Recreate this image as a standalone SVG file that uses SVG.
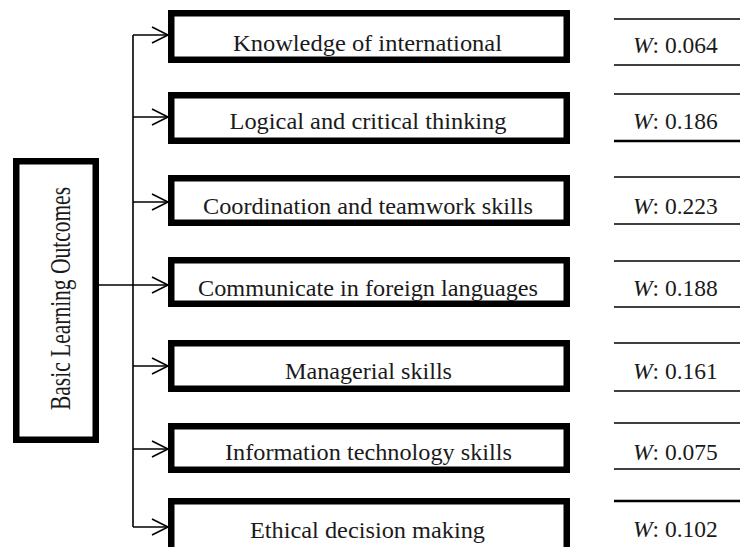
<svg xmlns="http://www.w3.org/2000/svg" width="740" height="547" viewBox="0 0 740 547">
<style>
  .box { fill: #fff; stroke: #000; stroke-width: 6.5; }
  .lbl { font-family: "Liberation Serif", "Times New Roman", serif; font-size: 24px; fill: #1a1a1a; text-anchor: middle; }
  .root { font-size: 30px; }
  .w { font-family: "Liberation Serif", "Times New Roman", serif; font-size: 23.5px; fill: #1a1a1a; }
  .w tspan.i { font-style: italic; }
  .conn { stroke: #000; stroke-width: 1.6; fill: none; }
  .rule { stroke: #000; stroke-width: 1.6; }
  .rule.b { stroke-width: 2.6; }
</style>
<defs>
  <marker id="chev" markerUnits="userSpaceOnUse" markerWidth="20" markerHeight="20" refX="17" refY="9" orient="auto">
    <path d="M1,1 L17,9 L1,17" fill="none" stroke="#000" stroke-width="1.6"/>
  </marker>
</defs>
<rect width="740" height="547" fill="#fff"/>

<g id="connectors">
  <line class="conn" x1="133" y1="35" x2="133" y2="527"/>
  <line class="conn" x1="98" y1="285" x2="133" y2="285"/>
  <line class="conn" x1="133" y1="35" x2="168" y2="35" marker-end="url(#chev)"/>
  <line class="conn" x1="133" y1="117" x2="168" y2="117" marker-end="url(#chev)"/>
  <line class="conn" x1="133" y1="202" x2="168" y2="202" marker-end="url(#chev)"/>
  <line class="conn" x1="133" y1="285" x2="168" y2="285" marker-end="url(#chev)"/>
  <line class="conn" x1="133" y1="366" x2="168" y2="366" marker-end="url(#chev)"/>
  <line class="conn" x1="133" y1="449" x2="168" y2="449" marker-end="url(#chev)"/>
  <line class="conn" x1="133" y1="527" x2="168" y2="527" marker-end="url(#chev)"/>
</g>

<g id="root">
  <rect class="box" x="16.25" y="161.25" width="79.5" height="278.5"/>
  <text class="lbl root" transform="translate(69.5,298.5) rotate(-90)" textLength="223" lengthAdjust="spacingAndGlyphs">Basic Learning Outcomes</text>
</g>

<g id="n1">
  <rect class="box" x="171.25" y="13.25" width="395.5" height="46.5"/>
  <text class="lbl" x="367.5" y="51" textLength="269" lengthAdjust="spacingAndGlyphs">Knowledge of international</text>
</g>
<g id="n2">
  <rect class="box" x="171.25" y="95.25" width="395.5" height="45.5"/>
  <text class="lbl" x="368" y="129" textLength="277" lengthAdjust="spacingAndGlyphs">Logical and critical thinking</text>
</g>
<g id="n3">
  <rect class="box" x="171.25" y="178.25" width="395.5" height="44.5"/>
  <text class="lbl" x="368" y="214" textLength="330" lengthAdjust="spacingAndGlyphs">Coordination and teamwork skills</text>
</g>
<g id="n4">
  <rect class="box" x="171.25" y="260.25" width="395.5" height="43.5"/>
  <text class="lbl" x="368" y="296" textLength="340" lengthAdjust="spacingAndGlyphs">Communicate in foreign languages</text>
</g>
<g id="n5">
  <rect class="box" x="171.25" y="343.25" width="395.5" height="45.5"/>
  <text class="lbl" x="368.5" y="379" textLength="167" lengthAdjust="spacingAndGlyphs">Managerial skills</text>
</g>
<g id="n6">
  <rect class="box" x="171.25" y="426.25" width="395.5" height="43.5"/>
  <text class="lbl" x="368.5" y="460" textLength="287" lengthAdjust="spacingAndGlyphs">Information technology skills</text>
</g>
<g id="n7">
  <rect class="box" x="171.25" y="501.25" width="395.5" height="70"/>
  <text class="lbl" x="367.5" y="538" textLength="235" lengthAdjust="spacingAndGlyphs">Ethical decision making</text>
</g>

<g id="weights">
  <line class="rule" x1="614" y1="19" x2="740" y2="19"/>
  <line class="rule" x1="614" y1="65" x2="740" y2="65"/>
  <text class="w" x="633" y="53"><tspan class="i">W</tspan>: 0.064</text>

  <line class="rule" x1="614" y1="94" x2="740" y2="94"/>
  <line class="rule b" x1="614" y1="141" x2="740" y2="141"/>
  <text class="w" x="633" y="129"><tspan class="i">W</tspan>: 0.186</text>

  <line class="rule" x1="614" y1="177" x2="740" y2="177"/>
  <line class="rule" x1="614" y1="224" x2="740" y2="224"/>
  <text class="w" x="633" y="214"><tspan class="i">W</tspan>: 0.223</text>

  <line class="rule" x1="614" y1="261" x2="740" y2="261"/>
  <line class="rule" x1="614" y1="307" x2="740" y2="307"/>
  <text class="w" x="633" y="296"><tspan class="i">W</tspan>: 0.188</text>

  <line class="rule" x1="614" y1="343" x2="740" y2="343"/>
  <line class="rule" x1="614" y1="391" x2="740" y2="391"/>
  <text class="w" x="633" y="379"><tspan class="i">W</tspan>: 0.161</text>

  <line class="rule" x1="614" y1="423" x2="740" y2="423"/>
  <line class="rule" x1="614" y1="469" x2="740" y2="469"/>
  <text class="w" x="633" y="460"><tspan class="i">W</tspan>: 0.075</text>

  <line class="rule b" x1="614" y1="501" x2="740" y2="501"/>
  <text class="w" x="633" y="537"><tspan class="i">W</tspan>: 0.102</text>
</g>
</svg>
